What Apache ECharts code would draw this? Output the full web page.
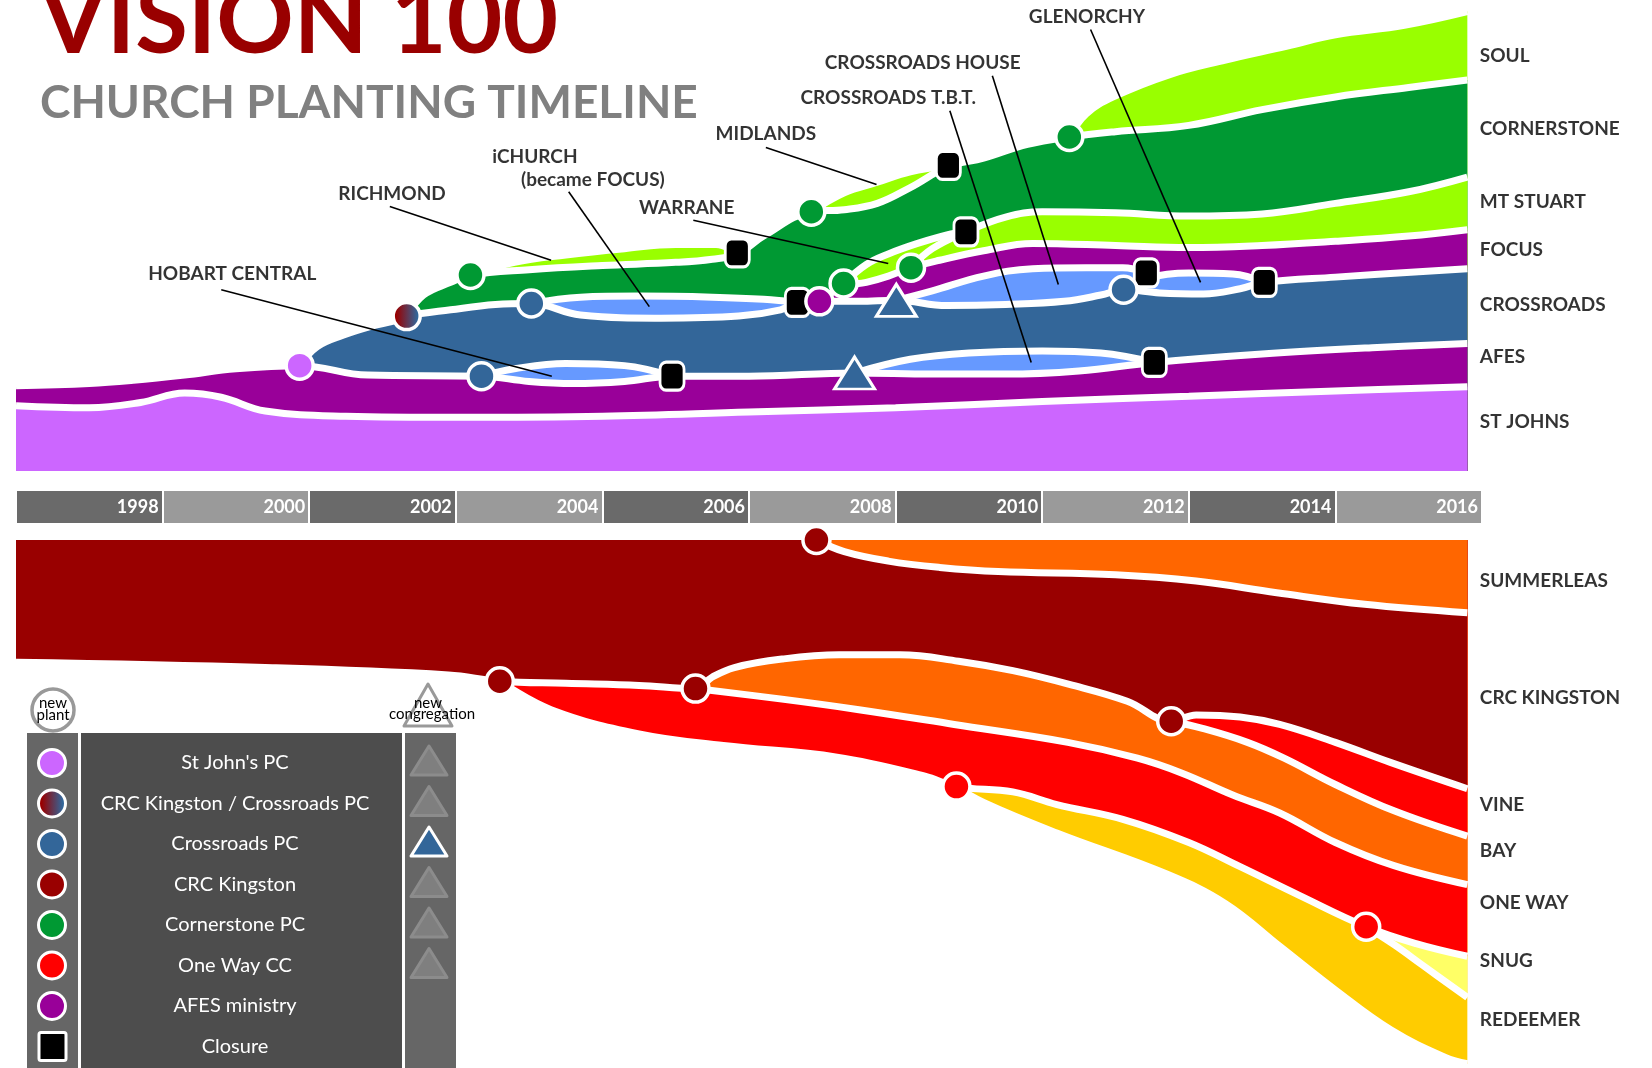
<!DOCTYPE html>
<html>
<head>
<meta charset="utf-8">
<title>Vision 100 - Church Planting Timeline</title>
<script src="https://cdn.jsdelivr.net/npm/echarts@6/dist/echarts.min.js"></script>
<style>
  html, body { margin: 0; padding: 0; background: #fff; }
  #chart { width: 1652px; height: 1068px; }
</style>
</head>
<body>
<div id="chart"></div>
<script>
// upper edge of every band, [year, value]; top stream counts up from its base line
const soul = [[2010.37, 317], [2010.6, 339], [2010.97, 355], [2011.73, 376], [2012.5, 390], [2013.33, 403], [2014, 414], [2014.94, 423], [2015.8, 436]]
const midlands = [[2006.85, 246], [2007.3, 264], [2007.75, 274], [2008.2, 284], [2008.72, 290]]
const richmond = [[2002.2, 186], [2002.8, 198], [2003.5, 205], [2004.3, 211], [2005, 215], [2005.55, 215], [2005.84, 207]]
const cornerstone = [[2001.33, 147], [2001.56, 167], [2001.93, 179], [2002.2, 186], [2003, 191], [2004, 195], [2005, 198], [2005.5, 201], [2005.84, 206], [2006.2, 223], [2006.85, 246], [2007.3, 248], [2007.75, 254], [2008.2, 269], [2008.72, 289], [2009.2, 297], [2009.8, 310], [2010.37, 317], [2011, 322], [2012, 328], [2013, 343], [2014, 355], [2015, 364], [2015.8, 371]]
const warrane = [[2007.29, 178], [2007.6, 196], [2007.9, 206], [2008.3, 216], [2008.7, 224], [2008.96, 227]]
const mtStuart = [[2008.21, 193], [2008.5, 211], [2008.96, 227], [2009.5, 241], [2010, 246], [2011, 245], [2012, 242], [2013, 244], [2014, 254], [2015, 265], [2015.8, 279]]
const focus = [[2006.96, 161], [2007.29, 175], [2007.6, 179], [2007.9, 185], [2008.21, 193], [2008.6, 200], [2009.2, 209], [2009.87, 216], [2011, 214], [2012, 212], [2013, 214], [2014, 218], [2015, 223], [2015.8, 229]]
const crossroadsHouse = [[2008.01, 162], [2008.5, 171], [2009.2, 185], [2009.87, 192], [2010.6, 193], [2011.1, 193], [2011.42, 188]]
const glenorchy = [[2011.11, 172], [2011.42, 183], [2012, 188], [2012.6, 187], [2013.03, 179]]
const iChurch = [[2003.03, 159], [2003.7, 165], [2004.5, 166], [2005.5, 165], [2006.2, 163], [2006.66, 160]]
const crossroads = [[1999.87, 100], [2000.11, 118], [2000.47, 129], [2000.83, 137], [2001.19, 143], [2001.33, 147], [2001.93, 153], [2002.54, 158], [2003.03, 159], [2003.7, 148], [2004.8, 145], [2005.86, 147], [2006.43, 153], [2006.66, 160], [2007, 161], [2007.5, 161], [2008.01, 162], [2008.7, 157], [2009.5, 158], [2010.3, 161], [2010.8, 167], [2011.11, 172], [2011.6, 169], [2012.2, 168], [2012.7, 173], [2013.03, 179], [2014, 184], [2015.8, 192]]
const tbt = [[2007.44, 93], [2008.2, 106], [2009, 112], [2010, 114], [2010.8, 112], [2011.53, 103]]
const hobart = [[2002.35, 90], [2002.8, 97], [2003.5, 102], [2004.3, 100], [2004.95, 90]]
const afes = [[1996, 81], [1997, 83], [1997.6, 86], [1998.3, 91], [1999, 97], [1999.87, 100], [2000.8, 91], [2002.35, 90], [2003, 85], [2003.6, 83], [2004.3, 85], [2004.95, 90], [2006, 90], [2007.44, 93], [2008.5, 92], [2009.5, 92], [2010.5, 95], [2011.53, 103], [2013, 111], [2014.5, 117], [2015.8, 121]]
const stJohns = [[1996, 62], [1997, 60], [1997.7, 65], [1998.3, 74], [1998.8, 70], [1999.4, 57], [2000.5, 52], [2002, 51], [2004, 52], [2006, 56], [2008, 60], [2010, 66], [2012, 71], [2014, 76], [2015.8, 80]]

// lower stream counts down from its top line: far edge of every band
const summerleas = [[2006.92, 0], [2007.3, 11], [2007.9, 20], [2008.6, 26], [2009.4, 30], [2011, 33], [2012.1, 39], [2013.2, 50], [2014.4, 61], [2015.8, 69]]
const crcKingston = [[1996, 116], [1999.4, 121], [2001.9, 128], [2002.6, 134], [2003.5, 136], [2004.5, 138], [2005.27, 141], [2005.5, 130], [2005.8, 121], [2006.45, 113], [2007.23, 109], [2008.06, 109], [2008.86, 115], [2009.6, 124], [2010.37, 137], [2011.16, 153], [2011.76, 172], [2012.1, 166], [2012.7, 168], [2013.24, 175], [2014, 192], [2014.75, 211], [2015.8, 236]]
const vine = [[2011.76, 172], [2012.2, 179], [2012.8, 192], [2013.3, 207], [2014, 232], [2014.8, 257], [2015.8, 281]]
const bay = [[2005.27, 141], [2006.45, 151], [2007.5, 161], [2008.8, 175], [2010.35, 192], [2011.3, 207], [2011.9, 221], [2012.6, 242], [2013.24, 259], [2014, 287], [2014.8, 309], [2015.8, 327]]
const oneWay = [[2002.6, 134], [2003.3, 161], [2004.5, 184], [2005.65, 195], [2007.2, 206], [2008.4, 224], [2008.83, 234], [2009.6, 239], [2010.2, 251], [2011.1, 265], [2012, 287], [2012.7, 310], [2013.5, 337], [2014.42, 367], [2015.1, 383], [2015.8, 395]]
const snug = [[2014.42, 367], [2014.8, 384], [2015.2, 404], [2015.8, 434]]
const redeemer = [[2008.83, 234], [2009.2, 249], [2010.2, 278], [2011.7, 317], [2012.5, 345], [2013.25, 386], [2014, 427], [2014.76, 465], [2015.5, 491], [2015.8, 497]]

// who planted what (start of a band), new congregations and closures (end of a band)
const plants = [
  ['CROSSROADS', "St John's PC"], ['CORNERSTONE', 'CRC Kingston / Crossroads PC'],
  ['RICHMOND', 'Cornerstone PC'], ['HOBART CENTRAL', 'Crossroads PC'], ['iCHURCH', 'Crossroads PC'],
  ['MIDLANDS', 'Cornerstone PC'], ['FOCUS', 'AFES ministry'], ['WARRANE', 'Cornerstone PC'],
  ['MT STUART', 'Cornerstone PC'], ['SOUL', 'Cornerstone PC'], ['GLENORCHY', 'Crossroads PC'],
  ['SUMMERLEAS', 'CRC Kingston'], ['ONE WAY', 'CRC Kingston'], ['BAY', 'CRC Kingston'],
  ['REDEEMER', 'One Way CC'], ['VINE', 'CRC Kingston'], ['SNUG', 'One Way CC']
]
const congregations = [['CROSSROADS T.B.T.', 'Crossroads PC'], ['CROSSROADS HOUSE', 'Crossroads PC']]
const closures = ['HOBART CENTRAL', 'RICHMOND', 'iCHURCH', 'MIDLANDS', 'WARRANE', 'CROSSROADS HOUSE', 'CROSSROADS T.B.T.', 'GLENORCHY']

// names at the right end
const topNames = [['SOUL', 394], ['CORNERSTONE', 325], ['MT STUART', 255], ['FOCUS', 210], ['CROSSROADS', 158], ['AFES', 108], ['ST JOHNS', 47]]
const bottomNames = [['SUMMERLEAS', 39], ['CRC KINGSTON', 150], ['VINE', 251], ['BAY', 295], ['ONE WAY', 344], ['SNUG', 399], ['REDEEMER', 455]]

// callouts: text anchor, then leader line from / to
const calloutText = [['HOBART CENTRAL', 1998.95, 187], ['RICHMOND', 2001.13, 263], ['iCHURCH', 2003.08, 298], ['(became FOCUS)', 2003.87, 276], ['WARRANE', 2005.15, 250], ['MIDLANDS', 2006.23, 320], ['CROSSROADS T.B.T.', 2007.9, 354], ['CROSSROADS HOUSE', 2008.37, 387], ['GLENORCHY', 2010.61, 431]]
const leaders = [[1998.8, 172, 2003.31, 90], [2001.1, 251, 2003.3, 200], [2003.54, 265, 2004.64, 156], [2005.24, 238, 2007.9, 197], [2006.23, 307, 2007.74, 272], [2008.74, 342, 2009.85, 103], [2009.32, 375, 2010.22, 177], [2010.66, 419, 2012.16, 179]]

const legendRows = ["St John's PC", 'CRC Kingston / Crossroads PC', 'Crossroads PC', 'CRC Kingston', 'Cornerstone PC', 'One Way CC', 'AFES ministry', 'Closure']

const bands = {
  'SOUL': soul, 'MIDLANDS': midlands, 'RICHMOND': richmond, 'CORNERSTONE': cornerstone,
  'WARRANE': warrane, 'MT STUART': mtStuart, 'FOCUS': focus, 'CROSSROADS HOUSE': crossroadsHouse,
  'GLENORCHY': glenorchy, 'iCHURCH': iChurch, 'CROSSROADS': crossroads, 'CROSSROADS T.B.T.': tbt,
  'HOBART CENTRAL': hobart, 'AFES': afes, 'ST JOHNS': stJohns,
  'SUMMERLEAS': summerleas, 'CRC KINGSTON': crcKingston, 'VINE': vine, 'BAY': bay,
  'ONE WAY': oneWay, 'SNUG': snug, 'REDEEMER': redeemer
}
// drawn back to front: every band covers everything on the base side of its edge
const topOrder = ['SOUL', 'MIDLANDS', 'RICHMOND', 'CORNERSTONE', 'WARRANE', 'MT STUART', 'FOCUS', 'CROSSROADS HOUSE', 'GLENORCHY', 'iCHURCH', 'CROSSROADS', 'CROSSROADS T.B.T.', 'HOBART CENTRAL', 'AFES', 'ST JOHNS']
const bottomOrder = ['REDEEMER', 'SNUG', 'ONE WAY', 'BAY', 'VINE', 'CRC KINGSTON', 'SUMMERLEAS']

const LIME = '#99ff00'
const PALE = '#6699ff'
const bandColors = {
  'SOUL': LIME, 'MIDLANDS': LIME, 'RICHMOND': LIME, 'CORNERSTONE': '#009933', 'WARRANE': LIME,
  'MT STUART': LIME, 'FOCUS': '#990099', 'CROSSROADS HOUSE': PALE, 'GLENORCHY': PALE, 'iCHURCH': PALE,
  'CROSSROADS': '#336699', 'CROSSROADS T.B.T.': PALE, 'HOBART CENTRAL': PALE, 'AFES': '#990099',
  'ST JOHNS': '#cc66ff', 'SUMMERLEAS': '#ff6600', 'CRC KINGSTON': '#990000', 'VINE': '#ff0000',
  'BAY': '#ff6600', 'ONE WAY': '#ff0000', 'SNUG': '#ffff66', 'REDEEMER': '#ffcc00'
}
const planterColors = {
  "St John's PC": '#cc66ff',
  'CRC Kingston / Crossroads PC': { type: 'linear', x: 0, y: 0, x2: 1, y2: 0, colorStops: [{ offset: 0.15, color: '#990000' }, { offset: 0.85, color: '#336699' }] },
  'Crossroads PC': '#336699',
  'CRC Kingston': '#990000',
  'Cornerstone PC': '#009933',
  'One Way CC': '#ff0000',
  'AFES ministry': '#990099',
  'Closure': '#000000'
}

const FONT = 'Lato, "Noto Sans", "DejaVu Sans", sans-serif'
const topSet = new Set(topOrder)

function band (name, grid) {
  return {
    name: name,
    type: 'line',
    xAxisIndex: grid,
    yAxisIndex: grid,
    data: bands[name],
    smooth: 0.4,
    symbol: 'none',
    silent: true,
    z: 2,
    lineStyle: { color: '#fff', width: 7 },
    areaStyle: { color: bandColors[name], opacity: 1 }
  }
}

function nodes (grid, inGrid) {
  const items = []
  closures.filter(inGrid).forEach(n => {
    const d = bands[n]
    items.push({
      value: d[d.length - 1],
      symbol: 'roundRect',
      symbolSize: [24, 28],
      itemStyle: { color: '#000', borderColor: '#fff', borderWidth: 3, opacity: 1 }
    })
  })
  congregations.filter(c => inGrid(c[0])).forEach(c => {
    items.push({
      value: bands[c[0]][0],
      symbol: 'triangle',
      symbolSize: [40, 32],
      itemStyle: { color: planterColors[c[1]], borderColor: '#fff', borderWidth: 3, opacity: 1 }
    })
  })
  plants.filter(p => inGrid(p[0])).forEach(p => {
    items.push({
      value: bands[p[0]][0],
      symbol: 'circle',
      symbolSize: 27,
      itemStyle: { color: planterColors[p[1]], borderColor: '#fff', borderWidth: 3.5, opacity: 1 }
    })
  })
  return {
    type: 'scatter',
    xAxisIndex: grid,
    yAxisIndex: grid,
    data: items,
    clip: false,
    silent: true,
    z: 6
  }
}

function names (grid, list) {
  return {
    type: 'scatter',
    xAxisIndex: grid,
    yAxisIndex: grid,
    data: list.map(l => ({ name: l[0], value: [2015.8, l[1]] })),
    symbolSize: 1,
    itemStyle: { color: 'rgba(0,0,0,0)' },
    clip: false,
    silent: true,
    label: {
      show: true,
      position: 'right',
      distance: 12,
      formatter: '{b}',
      color: '#000',
      fontFamily: FONT,
      fontWeight: 'bold',
      fontSize: 19
    }
  }
}

const series = []
topOrder.forEach(n => series.push(band(n, 0)))
bottomOrder.forEach(n => series.push(band(n, 2)))
series.push({
  type: 'lines',
  coordinateSystem: 'cartesian2d',
  xAxisIndex: 0,
  yAxisIndex: 0,
  data: leaders.map(l => ({ coords: [[l[0], l[1]], [l[2], l[3]]] })),
  symbol: ['none', 'none'],
  lineStyle: { color: '#000', width: 1.6, opacity: 1 },
  silent: true,
  z: 4
})
series.push(nodes(0, n => topSet.has(n)))
series.push(nodes(2, n => !topSet.has(n)))
series.push(names(0, topNames))
series.push(names(2, bottomNames))
series.push({
  type: 'scatter',
  xAxisIndex: 0,
  yAxisIndex: 0,
  data: calloutText.map(c => ({ name: c[0], value: [c[1], c[2]] })),
  symbolSize: 1,
  itemStyle: { color: 'rgba(0,0,0,0)' },
  clip: false,
  silent: true,
  z: 7,
  label: {
    show: true,
    position: 'inside',
    formatter: '{b}',
    color: '#000',
    fontFamily: FONT,
    fontWeight: 'bold',
    fontSize: 19
  }
})

function txt (text, x, y, font, fill, align) {
  return {
    type: 'text',
    silent: true,
    style: {
      text: text, x: x, y: y, font: font, fill: fill,
      align: align, verticalAlign: 'middle', textAlign: align, textVerticalAlign: 'middle'
    }
  }
}

const graphic = [
  txt('VISION 100', 40, 22, 'bold 96px ' + FONT, '#990000', 'left'),
  txt('CHURCH PLANTING TIMELINE', 40, 103, 'bold 46px ' + FONT, '#808080', 'left'),
  // legend header badges
  { type: 'circle', silent: true, shape: { cx: 53, cy: 710, r: 21 }, style: { fill: '#fff', stroke: '#999', lineWidth: 3.5 } },
  txt('new', 53, 703, '15px ' + FONT, '#000', 'center'),
  txt('plant', 53, 715, '15px ' + FONT, '#000', 'center'),
  { type: 'polygon', silent: true, shape: { points: [[428, 684], [452, 726], [404, 726]] }, style: { fill: '#fff', stroke: '#999', lineWidth: 3, lineJoin: 'round' } },
  txt('new', 428, 703, '15px ' + FONT, '#000', 'center'),
  txt('congregation', 432, 714, '15px ' + FONT, '#000', 'center'),
  // legend columns
  { type: 'rect', silent: true, shape: { x: 27, y: 733, width: 51, height: 335 }, style: { fill: '#666666' } },
  { type: 'rect', silent: true, shape: { x: 81, y: 733, width: 321, height: 335 }, style: { fill: '#4d4d4d' } },
  { type: 'rect', silent: true, shape: { x: 405, y: 733, width: 51, height: 335 }, style: { fill: '#666666' } }
]
legendRows.forEach((row, i) => {
  const cy = 763 + i * 40.5
  if (row === 'Closure') {
    graphic.push({ type: 'rect', silent: true, shape: { x: 39, y: cy - 14, width: 27, height: 28, r: 2 }, style: { fill: '#000', stroke: '#fff', lineWidth: 3 } })
  } else {
    graphic.push({ type: 'circle', silent: true, shape: { cx: 52, cy: cy, r: 13.5 }, style: { fill: planterColors[row], stroke: '#fff', lineWidth: 3 } })
  }
  graphic.push(txt(row, 235, cy, '20px ' + FONT, '#fff', 'center'))
  if (i < 6) {
    const active = congregations.some(c => c[1] === row)
    graphic.push({
      type: 'polygon',
      silent: true,
      shape: { points: [[429, cy - 17], [447, cy + 12], [411, cy + 12]] },
      style: { fill: active ? '#336699' : '#7f7f7f', stroke: active ? '#fff' : '#8c8c8c', lineWidth: 3, lineJoin: 'round' }
    })
  }
})

const hidden = { show: false }
const chart = echarts.init(document.getElementById('chart'))
chart.setOption({
  animation: false,
  backgroundColor: '#fff',
  grid: [
    { left: 16, right: 170, top: 0, height: 471 },
    { left: 16, right: 170, top: 491, height: 32 },
    { left: 16, right: 170, top: 540, height: 528 }
  ],
  xAxis: [
    { type: 'value', gridIndex: 0, min: 1996, max: 2016, ...hidden },
    {
      type: 'value',
      gridIndex: 1,
      min: 1996,
      max: 2016,
      interval: 2,
      axisLine: hidden,
      axisTick: hidden,
      splitLine: { show: true, lineStyle: { color: '#fff', width: 2 } },
      splitArea: { show: true, areaStyle: { color: ['#6a6a6a', '#9a9a9a'] } },
      axisLabel: {
        inside: true,
        margin: 16,
        align: 'right',
        verticalAlign: 'middle',
        padding: [0, 4, 0, 0],
        color: '#fff',
        fontFamily: FONT,
        fontWeight: 'bold',
        fontSize: 18,
        showMinLabel: true,
        showMaxLabel: true,
        formatter: v => (v === 1996 ? '' : String(v))
      }
    },
    { type: 'value', gridIndex: 2, min: 1996, max: 2016, ...hidden }
  ],
  yAxis: [
    { type: 'value', gridIndex: 0, min: 0, max: 447, ...hidden },
    { type: 'value', gridIndex: 1, min: 0, max: 1, ...hidden },
    { type: 'value', gridIndex: 2, min: 0, max: 501, inverse: true, ...hidden }
  ],
  graphic: graphic,
  series: series
})
</script>
</body>
</html>
